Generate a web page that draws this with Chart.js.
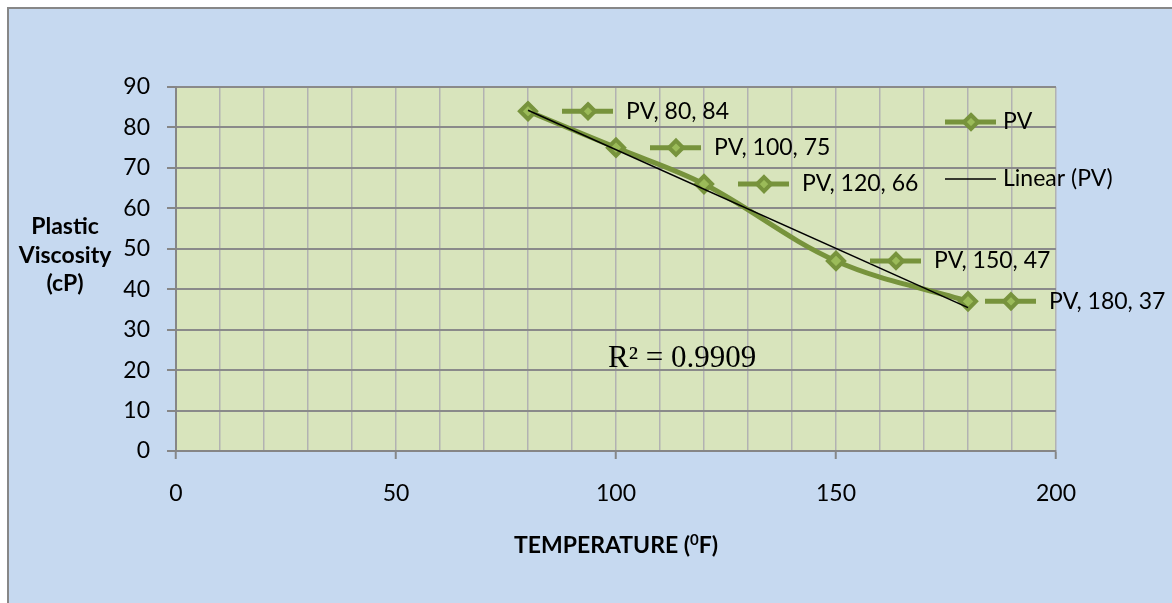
<!DOCTYPE html>
<html>
<head>
<meta charset="utf-8">
<script src="https://cdn.jsdelivr.net/npm/chart.js@4.4.0/dist/chart.umd.min.js"></script>
<style>
  html, body { margin: 0; padding: 0; background: #fff; overflow: hidden; }
  #frame { position: absolute; left: 7px; top: 7px; width: 1200px; height: 640px; border: 2px solid #878787; background: #c6d9f0; }
  #wrap { position: absolute; left: 0; top: 0; width: 1172px; height: 603px; }
</style>
</head>
<body>
<div id="frame"></div>
<div id="wrap"><canvas id="pvChart" width="1172" height="603"></canvas></div>
<script>
const temperatures = [80, 100, 120, 150, 180];
const plasticViscosity = [84, 75, 66, 47, 37];
const xTickLabels = [0, 50, 100, 150, 200];
const yTickLabels = [0, 10, 20, 30, 40, 50, 60, 70, 80, 90];
const seriesName = 'PV';
const trendName = 'Linear (PV)';

const LINE_GREEN = '#77933c';
const FILL_GREEN = '#9bbb59';
const FONT = 'Lato, "Liberation Sans", sans-serif';

// least squares line, same as the Excel linear trendline
const n = temperatures.length;
const meanX = temperatures.reduce((a, b) => a + b, 0) / n;
const meanY = plasticViscosity.reduce((a, b) => a + b, 0) / n;
let sxy = 0, sxx = 0, syy = 0;
temperatures.forEach((t, i) => {
  sxy += (t - meanX) * (plasticViscosity[i] - meanY);
  sxx += (t - meanX) ** 2;
  syy += (plasticViscosity[i] - meanY) ** 2;
});
const slope = sxy / sxx;
const intercept = meanY - slope * meanX;
const rSquared = (sxy * sxy) / (sxx * syy);
const xFirst = temperatures[0];
const xLast = temperatures[n - 1];

function drawKey(ctx, x0, y) {
  ctx.save();
  ctx.strokeStyle = LINE_GREEN;
  ctx.lineWidth = 5;
  ctx.beginPath();
  ctx.moveTo(x0, y);
  ctx.lineTo(x0 + 51, y);
  ctx.stroke();
  const cx = x0 + 26, r = 7;
  ctx.beginPath();
  ctx.moveTo(cx, y - r);
  ctx.lineTo(cx + r, y);
  ctx.lineTo(cx, y + r);
  ctx.lineTo(cx - r, y);
  ctx.closePath();
  ctx.fillStyle = FILL_GREEN;
  ctx.fill();
  ctx.lineWidth = 4;
  ctx.stroke();
  ctx.restore();
}

const decorations = {
  id: 'decorations',
  beforeDraw(chart) {
    const { ctx, chartArea: a } = chart;
    ctx.save();
    ctx.fillStyle = '#d8e4bc';
    ctx.fillRect(a.left, a.top, a.right - a.left, a.bottom - a.top);
    ctx.restore();
  },
  afterDatasetsDraw(chart) {
    const { ctx, chartArea: a, scales: { x, y } } = chart;
    ctx.save();
    ctx.fillStyle = '#000';
    ctx.textBaseline = 'middle';
    ctx.font = '23px ' + FONT;

    // data labels with their little legend keys
    temperatures.forEach((t, i) => {
      const px = x.getPixelForValue(t);
      const py = y.getPixelForValue(plasticViscosity[i]);
      const shift = i === n - 1 ? -17 : 0;
      drawKey(ctx, px + 34 + shift, py);
      ctx.fillText(`${seriesName}, ${t}, ${plasticViscosity[i]}`, px + 98 + shift, py);
    });

    // legend inside the plot area
    const lx = a.right - 111;
    drawKey(ctx, lx, a.top + 35);
    ctx.fillText(seriesName, lx + 58, a.top + 35);
    ctx.strokeStyle = '#000';
    ctx.lineWidth = 1.5;
    ctx.beginPath();
    ctx.moveTo(lx, a.top + 92);
    ctx.lineTo(lx + 51, a.top + 92);
    ctx.stroke();
    ctx.fillText(trendName, lx + 58, a.top + 92);

    // R² label
    ctx.textBaseline = 'alphabetic';
    ctx.font = '31px "Liberation Serif", "Times New Roman", serif';
    ctx.fillText('R² = ' + rSquared.toFixed(4), x.getPixelForValue(98.2), y.getPixelForValue(20.8));

    // axis titles
    ctx.font = 'bold 23px ' + FONT;
    ctx.textBaseline = 'middle';
    ctx.textAlign = 'center';
    ['Plastic', 'Viscosity', '(cP)'].forEach((line, i) => {
      ctx.fillText(line, 65, 227 + i * 28.5);
    });

    ctx.textAlign = 'left';
    const partA = 'TEMPERATURE (';
    const partB = 'F)';
    const wA = ctx.measureText(partA).width;
    const wB = ctx.measureText(partB).width;
    ctx.font = 'bold 15px ' + FONT;
    const wSup = ctx.measureText('0').width;
    const total = wA + wSup + wB;
    let tx = (a.left + a.right) / 2 - total / 2;
    const ty = 546;
    ctx.font = 'bold 23px ' + FONT;
    ctx.fillText(partA, tx, ty);
    tx += wA;
    ctx.font = 'bold 15px ' + FONT;
    ctx.fillText('0', tx, ty - 6);
    tx += wSup;
    ctx.font = 'bold 23px ' + FONT;
    ctx.fillText(partB, tx, ty);
    ctx.restore();
  }
};

new Chart(document.getElementById('pvChart'), {
  type: 'line',
  data: {
    datasets: [
      {
        label: seriesName,
        data: temperatures.map((t, i) => ({ x: t, y: plasticViscosity[i] })),
        borderColor: LINE_GREEN,
        borderWidth: 5,
        tension: 0.35,
        pointStyle: 'rectRot',
        pointRadius: 8,
        pointBorderWidth: 4,
        pointBackgroundColor: FILL_GREEN,
        pointBorderColor: LINE_GREEN,
        fill: false,
        order: 2
      },
      {
        label: trendName,
        data: [
          { x: xFirst, y: intercept + slope * xFirst },
          { x: xLast, y: intercept + slope * xLast }
        ],
        borderColor: '#000',
        borderWidth: 1.5,
        pointRadius: 0,
        fill: false,
        order: 1
      }
    ]
  },
  options: {
    responsive: false,
    animation: false,
    events: [],
    layout: {
      padding: { left: 116, top: 87, right: 116, bottom: 92 }
    },
    scales: {
      x: {
        type: 'linear',
        min: xTickLabels[0],
        max: xTickLabels[xTickLabels.length - 1],
        afterFit: (s) => { s.height = 60; },
        ticks: {
          stepSize: 10,
          autoSkip: false,
          maxRotation: 0,
          padding: 21,
          color: '#000',
          font: { family: FONT, size: 23 },
          callback: (v) => xTickLabels.includes(v) ? String(v) : ''
        },
        grid: {
          color: '#b2b2b2',
          lineWidth: 1.5,
          tickLength: 8,
          tickWidth: 2,
          tickColor: (c) => (c.tick && xTickLabels.includes(c.tick.value)) ? '#868686' : 'rgba(0,0,0,0)'
        },
        border: { color: '#868686', width: 2 }
      },
      y: {
        min: yTickLabels[0],
        max: yTickLabels[yTickLabels.length - 1],
        afterFit: (s) => { s.width = 60; },
        ticks: {
          stepSize: 10,
          padding: 17,
          color: '#000',
          font: { family: FONT, size: 23 },
          callback: (v) => yTickLabels.includes(v) ? String(v) : ''
        },
        grid: {
          color: '#8a8a8a',
          lineWidth: 2,
          tickLength: 9,
          tickWidth: 2,
          tickColor: '#868686'
        },
        border: { color: '#868686', width: 2 }
      }
    },
    plugins: {
      legend: { display: false },
      tooltip: { enabled: false },
      title: { display: false }
    }
  },
  plugins: [decorations]
});
</script>
</body>
</html>
